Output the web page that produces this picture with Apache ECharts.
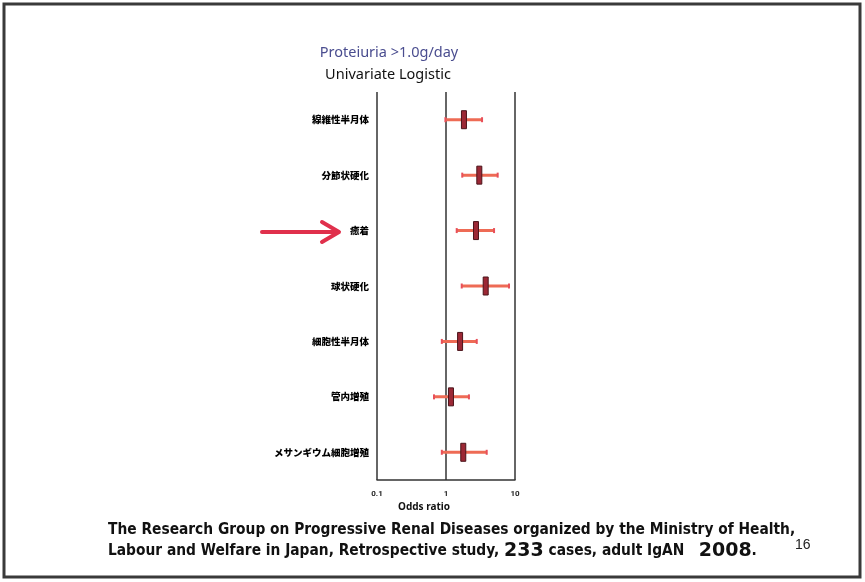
<!DOCTYPE html>
<html>
<head>
<meta charset="utf-8">
<script src="https://cdn.jsdelivr.net/npm/echarts@6/dist/echarts.min.js"></script>
<style>
  html, body { margin: 0; padding: 0; background: #fff; }
  #chart { width: 865px; height: 582px; }
</style>
</head>
<body>
<div id="chart"></div>
<script>
// Histological findings (top to bottom)
const categories = ['線維性半月体', '分節状硬化', '癒着', '球状硬化', '細胞性半月体', '管内増殖', 'メサンギウム細胞増殖'];
// Odds ratios with 95% confidence limits
const oddsRatio = [1.82, 3.04, 2.72, 3.76, 1.60, 1.18, 1.78];
const ciLower   = [0.98, 1.72, 1.43, 1.69, 0.87, 0.67, 0.87];
const ciUpper   = [3.33, 5.61, 4.97, 8.18, 2.79, 2.15, 3.89];
// Log-scale tick labels
const tickLabels = ['0.1', '1', '10'];

const chart = echarts.init(document.getElementById('chart'), null, { renderer: 'canvas' });

const seriesData = categories.map((c, i) => [ciLower[i], ciUpper[i], oddsRatio[i], i]);

const jpFont = '"Noto Sans CJK JP", "Noto Sans", sans-serif';

function renderInterval(params, api) {
  const lo = api.coord([api.value(0), api.value(3)]);
  const hi = api.coord([api.value(1), api.value(3)]);
  const mid = api.coord([api.value(2), api.value(3)]);
  const y = mid[1];
  const barColor = '#ee6b55';
  return {
    type: 'group',
    children: [
      { type: 'line', shape: { x1: lo[0], y1: y, x2: hi[0], y2: y },
        style: { stroke: barColor, lineWidth: 3 } },
      { type: 'line', shape: { x1: lo[0], y1: y - 2.5, x2: lo[0], y2: y + 2.5 },
        style: { stroke: '#e8505a', lineWidth: 2 } },
      { type: 'line', shape: { x1: hi[0], y1: y - 2.5, x2: hi[0], y2: y + 2.5 },
        style: { stroke: '#e8505a', lineWidth: 2 } },
      { type: 'rect', shape: { x: mid[0] - 2.5, y: y - 9, width: 5, height: 18 },
        style: { fill: '#9c2835', stroke: '#4a141a', lineWidth: 1 } }
    ]
  };
}

const option = {
  animation: false,
  backgroundColor: '#ffffff',
  grid: { left: 377, right: 350, top: 92, bottom: 102, containLabel: false },
  xAxis: {
    type: 'log',
    logBase: 10,
    min: 0.1,
    max: 10,
    axisLine: { show: true, lineStyle: { color: '#333', width: 1.5 } },
    axisTick: { show: false },
    splitLine: { show: true, lineStyle: { color: '#333', width: 1.5 } },
    axisLabel: {
      margin: 10,
      fontSize: 8,
      fontWeight: 'bold',
      color: '#222',
      fontFamily: 'Roboto, sans-serif',
      formatter: (v) => {
        const s = String(Number(v.toPrecision(3)));
        return tickLabels.indexOf(s) >= 0 ? s : '';
      }
    }
  },
  yAxis: {
    type: 'category',
    data: categories,
    inverse: true,
    boundaryGap: true,
    axisLine: { show: false },
    axisTick: { show: false },
    splitLine: { show: false },
    axisLabel: {
      margin: 8,
      fontSize: 9.5,
      fontWeight: 900,
      color: '#000',
      fontFamily: jpFont
    }
  },
  series: [{
    type: 'custom',
    renderItem: renderInterval,
    encode: { x: [0, 1, 2], y: 3 },
    data: seriesData,
    z: 10
  }],
  graphic: [
    // slide frame
    { type: 'rect', shape: { x: 4, y: 4, width: 856, height: 573 },
      style: { fill: 'none', stroke: '#3a3a3a', lineWidth: 3 }, z: 100 },
    // titles
    { type: 'text', x: 389, y: 53,
      style: { text: 'Proteiuria >1.0g/day', fill: '#4a4d8f', font: '14.5px "Noto Sans", sans-serif',
               textAlign: 'center', textVerticalAlign: 'middle' } },
    { type: 'text', x: 388, y: 75,
      style: { text: 'Univariate Logistic', fill: '#111', font: '14.5px "Noto Sans", sans-serif',
               textAlign: 'center', textVerticalAlign: 'middle' } },
    // axis name
    { type: 'text', x: 424, y: 507,
      style: { text: 'Odds ratio', fill: '#111', font: 'bold 10px "Noto Sans", sans-serif',
               textAlign: 'center', textVerticalAlign: 'middle' } },
    // arrow pointing at the adhesion row
    { type: 'line', shape: { x1: 262, y1: 232, x2: 337, y2: 232 },
      style: { stroke: '#e0304c', lineWidth: 4, lineCap: 'round' } },
    { type: 'polyline', shape: { points: [[322, 222], [339, 232], [322, 242]] },
      style: { stroke: '#e0304c', lineWidth: 4, fill: 'none', lineCap: 'round', lineJoin: 'round' } },
    // source note
    { type: 'text', x: 108, y: 530,
      style: { text: 'The Research Group on Progressive Renal Diseases organized by the Ministry of Health,',
               fill: '#111', font: 'bold 15.35px "Liberation Sans Narrow", "DejaVu Sans Condensed", sans-serif',
               textVerticalAlign: 'middle' } },
    { type: 'text', x: 108, y: 551,
      style: { rich: {
                 n: { fill: '#111', font: 'bold 15.35px "Liberation Sans Narrow", "DejaVu Sans Condensed", sans-serif' },
                 b: { fill: '#111', font: 'bold 19px "DejaVu Sans", sans-serif' }
               },
               text: '{n|Labour and Welfare in Japan, Retrospective study, }{b|233}{n| cases, adult IgAN   }{b|2008}{n|.}',
               textVerticalAlign: 'middle' } },
    { type: 'text', x: 795, y: 545,
      style: { text: '16', fill: '#222', font: '14px "Liberation Sans", sans-serif',
               textVerticalAlign: 'middle' } }
  ]
};

chart.setOption(option);
</script>
</body>
</html>
